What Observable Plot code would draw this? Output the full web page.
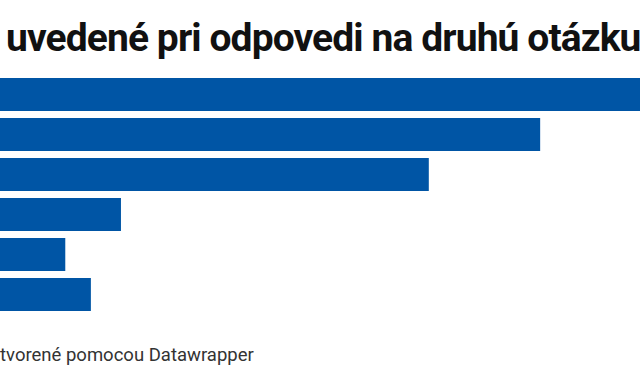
<!DOCTYPE html>
<html>
<head>
<meta charset="utf-8">
<script src="https://cdn.jsdelivr.net/npm/d3@7"></script>
<script src="https://cdn.jsdelivr.net/npm/@observablehq/plot@0.6"></script>
<style>
  html, body { margin: 0; padding: 0; background: #fff; }
  #wrap { width: 640px; height: 384px; overflow: hidden; position: relative; font-family: Roboto, "Noto Sans", sans-serif; }
  #title { height: 70px; box-sizing: border-box; padding: 18px 0 0 6px; font-weight: 700; font-size: 39px; line-height: 40px; color: #111; white-space: nowrap; letter-spacing: -0.9px; }
  #caption { height: 64px; box-sizing: border-box; padding: 25px 0 0 0; font-size: 18.5px; line-height: 20px; color: #333; white-space: nowrap; }
  svg { display: block; }
</style>
</head>
<body>
<div id="wrap">
  <div id="title">uvedené pri odpovedi na druhú otázku</div>
  <div id="chart"></div>
  <div id="caption">tvorené pomocou Datawrapper</div>
</div>
<script>
const categories = ["1", "2", "3", "4", "5", "6"];
const values = [100, 84.4, 67, 18.9, 10.2, 14.2];

const data = categories.map((c, i) => ({category: c, value: values[i]}));

const chart = Plot.plot({
  width: 640,
  height: 250,
  marginLeft: 0,
  marginRight: 0,
  marginTop: 6,
  marginBottom: 8,
  x: {domain: [0, 100], axis: null},
  y: {domain: categories, axis: null, paddingInner: 0.18, paddingOuter: 0},
  marks: [
    Plot.barX(data, {x: "value", y: "category", fill: "#0055a5"})
  ]
});
document.getElementById("chart").appendChild(chart);
</script>
</body>
</html>
